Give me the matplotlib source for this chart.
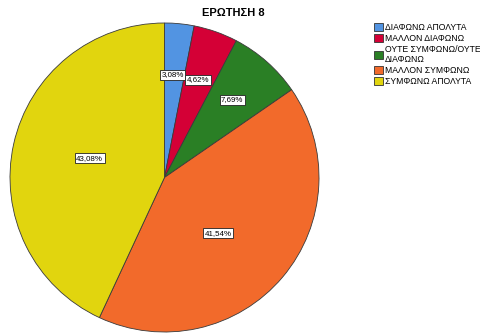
import numpy as np
import matplotlib
matplotlib.use("Agg")
import matplotlib.pyplot as plt
from matplotlib.patches import Patch

plt.rcParams['font.family'] = ['Liberation Sans', 'DejaVu Sans']

categories = ["ΔΙΑΦΩΝΩ ΑΠΟΛΥΤΑ", "ΜΑΛΛΟΝ ΔΙΑΦΩΝΩ", "ΟΥΤΕ ΣΥΜΦΩΝΩ/ΟΥΤΕ\nΔΙΑΦΩΝΩ",
              "ΜΑΛΛΟΝ ΣΥΜΦΩΝΩ", "ΣΥΜΦΩΝΩ ΑΠΟΛΥΤΑ"]
percentages = [3.08, 4.62, 7.69, 41.54, 43.08]
colors = ["#5294e2", "#d40036", "#2a7f25", "#f26a2b", "#e1d50e"]

# label placement (fraction of radius, angular nudge in degrees)
label_radius = [0.667, 0.667, 0.667, 0.5, 0.5]
label_nudge = [1, 0.5, 0.5, -6, -2]

W, H = 481, 334
fig = plt.figure(figsize=(W / 100, H / 100), dpi=100)
cx, cy, r = 164.5, 177.5, 154.5
ax = fig.add_axes([(cx - r) / W, (H - cy - r) / H, 2 * r / W, 2 * r / H])

wedges, _ = ax.pie(percentages, colors=colors, startangle=90, counterclock=False,
                   wedgeprops=dict(edgecolor="#3a3a3a", linewidth=0.6))
ax.set_xlim(-1, 1)
ax.set_ylim(-1, 1)

for w, p, rf, dn in zip(wedges, percentages, label_radius, label_nudge):
    ang = np.deg2rad((w.theta1 + w.theta2) / 2 + dn)
    ax.text(rf * np.cos(ang), rf * np.sin(ang), f"{p:.2f}%".replace(".", ","),
            ha="center", va="center", fontsize=5.7,
            bbox=dict(boxstyle="square,pad=0.18", facecolor="white",
                      edgecolor="#222222", linewidth=0.6))

fig.text(233 / W, 1 - 13 / H, "ΕΡΩΤΗΣΗ 8", ha="center", va="center",
         fontsize=8, fontweight="bold")

handles = [Patch(facecolor=c, edgecolor="#333333", linewidth=0.6) for c in colors]
fig.legend(handles, categories, loc="upper left", bbox_to_anchor=(374 / W, 1 - 23 / H),
           frameon=False, fontsize=6.2, handlelength=1.05, handleheight=1.05,
           handletextpad=0.25, labelspacing=0.22, borderpad=0, borderaxespad=0)

fig.savefig("out.png", dpi=100)
